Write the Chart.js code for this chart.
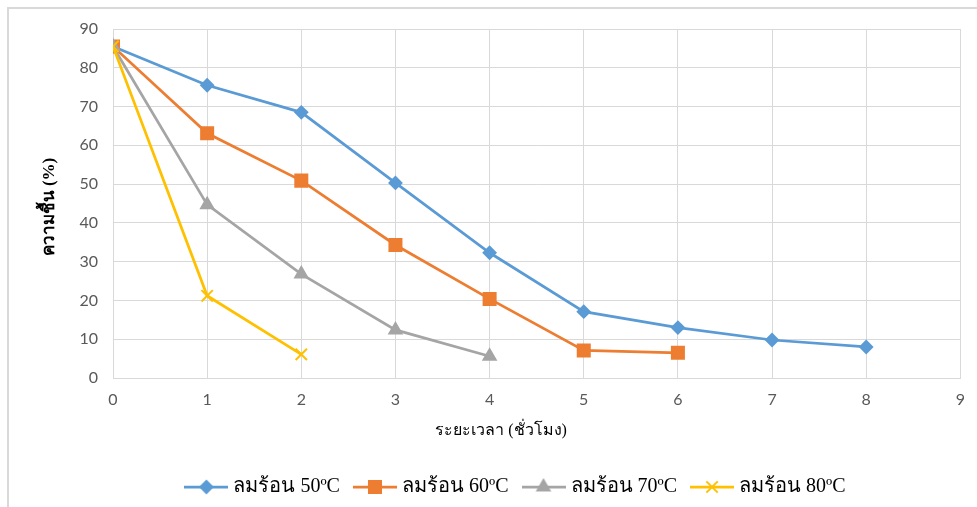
<!DOCTYPE html>
<html>
<head>
<meta charset="utf-8">
<script src="https://cdn.jsdelivr.net/npm/chart.js@4.4.1/dist/chart.umd.min.js"></script>
<style>
  html, body { margin: 0; padding: 0; background: #fff; }
  #wrap { position: relative; width: 977px; height: 507px; overflow: hidden; }
  #frame { position: absolute; left: 7px; top: 7px; width: 990px; height: 520px; border-top: 2px solid #d9d9d9; border-left: 2px solid #d9d9d9; }
  canvas { position: absolute; left: 0; top: 0; }
</style>
</head>
<body>
<div id="wrap">
  <div id="frame"></div>
  <canvas id="c" width="977" height="507"></canvas>
</div>
<script>
        // values
        const hours50 = [0, 1, 2, 3, 4, 5, 6, 7, 8];
        const moist50 = [85.5, 75.5, 68.5, 50.3, 32.3, 17.1, 13.0, 9.8, 8.0];
        const hours60 = [0, 1, 2, 3, 4, 5, 6];
        const moist60 = [85.5, 63.1, 50.9, 34.3, 20.4, 7.1, 6.5];
        const hours70 = [0, 1, 2, 3, 4];
        const moist70 = [85.5, 44.7, 26.8, 12.4, 5.6];
        const hours80 = [0, 1, 2];
        const moist80 = [85.5, 21.2, 6.1];

        const seriesNames = ['ลมร้อน 50ºC', 'ลมร้อน 60ºC', 'ลมร้อน 70ºC', 'ลมร้อน 80ºC'];
        const colors = ['#5b9bd5', '#ed7d31', '#a5a5a5', '#ffc000'];
        const markers = ['rectRot', 'rect', 'triangle', 'crossRot'];
        const markerSize = [6, 8.5, 7, 8];

        const xTitle = 'ระยะเวลา (ชั่วโมง)';
        const yTitle = 'ความชื้น (%)';
        const serif = '"Liberation Serif", "Times New Roman", serif';
        const sans = 'Lato, "Liberation Sans", sans-serif';

        const toPts = (xs, ys) => xs.map((x, i) => ({ x: x, y: ys[i] }));
        const allData = [toPts(hours50, moist50), toPts(hours60, moist60), toPts(hours70, moist70), toPts(hours80, moist80)];

        // legend swatch: short line with the marker on it
        function swatch(i) {
            const cv = document.createElement('canvas');
            cv.width = 44; cv.height = 20;
            const ctx = cv.getContext('2d');
            ctx.strokeStyle = colors[i];
            ctx.lineWidth = 2.75;
            ctx.beginPath(); ctx.moveTo(0, 10); ctx.lineTo(44, 10); ctx.stroke();
            ctx.fillStyle = colors[i];
            ctx.lineWidth = 2;
            Chart.helpers.drawPoint(ctx, { pointStyle: markers[i], radius: markerSize[i], borderWidth: 2 }, 22, 10);
            return cv;
        }

        const titlesPlugin = {
            id: 'axisTitles',
            afterLayout(chart) {
                // Excel left the legend a bit off centre and lower
                const lg = chart.legend;
                lg.left += 74;
                lg.top += 11;
                lg.bottom += 11;
            },
            afterDraw(chart) {
                const ctx = chart.ctx;
                ctx.save();
                ctx.fillStyle = '#000';
                ctx.font = '16px ' + serif;
                ctx.textAlign = 'center';
                ctx.textBaseline = 'middle';
                ctx.fillText(xTitle, 501, 431);
                ctx.translate(50, 207);
                ctx.rotate(-Math.PI / 2);
                ctx.font = 'bold 17px ' + serif;
                ctx.fillText(yTitle, 0, 0);
                ctx.restore();
            }
        };

        const chart = new Chart(document.getElementById('c').getContext('2d'), {
            type: 'line',
            data: {
                datasets: allData.map((d, i) => ({
                    label: seriesNames[i],
                    data: d,
                    borderColor: colors[i],
                    backgroundColor: colors[i],
                    borderWidth: 2.75,
                    pointStyle: markers[i],
                    pointRadius: markerSize[i],
                    pointHoverRadius: markerSize[i],
                    pointBorderWidth: 2,
                    tension: 0,
                    order: 3 - i
                }))
            },
            options: {
                responsive: false,
                animation: false,
                layout: { padding: { left: 0, right: 16, top: 29, bottom: 11 } },
                plugins: {
                    tooltip: { enabled: false },
                    legend: {
                        position: 'bottom',
                        labels: {
                            usePointStyle: true,
                            pointStyleWidth: 34,
                            padding: 18,
                            color: '#000',
                            font: { family: serif, size: 20 },
                            generateLabels: () => seriesNames.map((n, i) => ({
                                text: n, pointStyle: swatch(i), fillStyle: colors[i],
                                strokeStyle: colors[i], lineWidth: 0, datasetIndex: i, hidden: false
                            }))
                        }
                    }
                },
                scales: {
                    x: {
                        type: 'linear', min: 0, max: 9,
                        ticks: { stepSize: 1, color: '#595959', padding: 12, font: { family: sans, size: 16 } },
                        grid: { color: '#d9d9d9', drawTicks: false },
                        border: { color: '#d9d9d9' },
                        afterFit: s => { s.height = 70; }
                    },
                    y: {
                        min: 0, max: 90,
                        ticks: { stepSize: 10, color: '#595959', padding: 15, font: { family: sans, size: 16 } },
                        grid: { color: '#d9d9d9', drawTicks: false },
                        border: { color: '#d9d9d9' },
                        afterFit: s => { s.width = 113; }
                    }
                }
            },
            plugins: [titlesPlugin]
        });
</script>
</body>
</html>
